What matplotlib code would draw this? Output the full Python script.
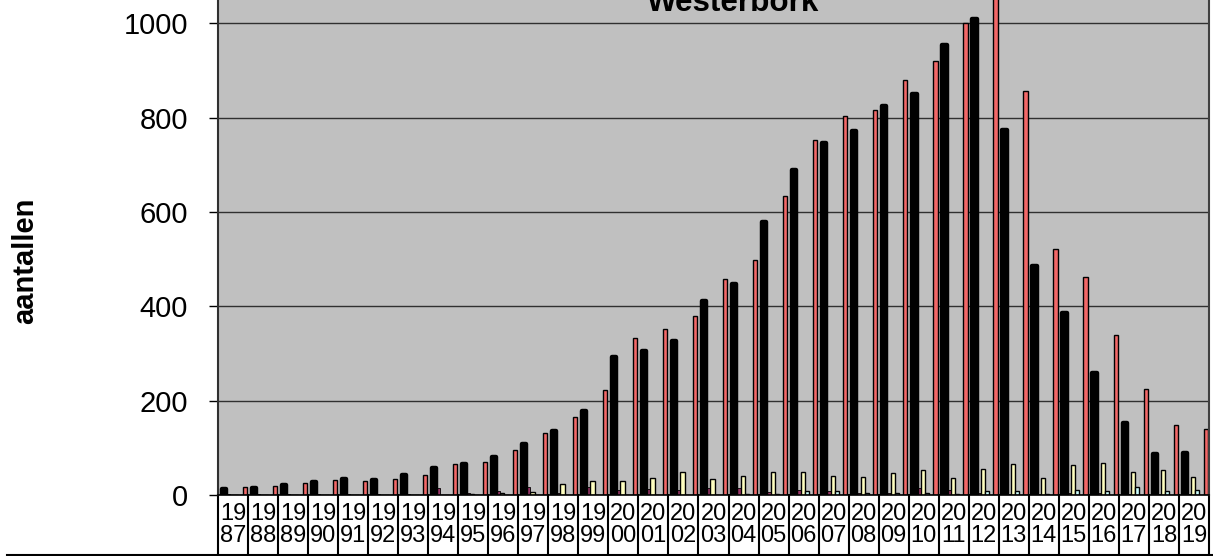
import matplotlib
matplotlib.use("Agg")
import matplotlib.pyplot as plt
from matplotlib.lines import Line2D
import numpy as np

plt.rcParams['font.family'] = ['Liberation Sans', 'DejaVu Sans']

# categories (years) and the five series per year
jaren = ['1987', '1988', '1989', '1990', '1991', '1992', '1993', '1994', '1995',
         '1996', '1997', '1998', '1999', '2000', '2001', '2002', '2003', '2004',
         '2005', '2006', '2007', '2008', '2009', '2010', '2011', '2012', '2013',
         '2014', '2015', '2016', '2017', '2018', '2019']

zwart = [12, 15, 21, 28, 33, 31, 43, 57, 65, 80, 108, 136, 178, 292, 306, 326,
         411, 447, 579, 688, 746, 771, 824, 850, 954, 1009, 773, 485, 385, 259,
         153, 86, 90]
paars = [3, 3, 3, 3, 2, 3, 2, 15, 4, 8, 17, 5, 17, 10, 12, 10, 15, 15, 7, 10,
         8, 5, 5, 15, 10, 5, 3, 3, 5, 5, 3, 2, 2]
geel = [0, 0, 0, 0, 0, 0, 0, 0, 2, 5, 6, 23, 29, 30, 35, 49, 33, 40, 49, 49,
        40, 39, 46, 52, 35, 55, 65, 37, 63, 67, 48, 52, 39]
cyaan = [0, 0, 0, 0, 0, 0, 0, 0, 0, 0, 0, 0, 0, 0, 0, 0, 0, 2, 2, 9, 9, 4, 4,
         5, 2, 9, 8, 3, 10, 8, 16, 9, 10]
rood = [16, 19, 25, 32, 30, 33, 42, 66, 69, 95, 131, 165, 222, 332, 352, 380,
        458, 498, 633, 753, 803, 817, 880, 921, 1000, 1100, 856, 521, 463, 340,
        224, 148, 140]

W, H = 1213, 556
fig = plt.figure(figsize=(W / 100, H / 100), dpi=100)
ax = fig.add_axes([218 / W, (H - 495) / H, 991 / W, (495 + 71) / H])
ax.set_facecolor('#C0C0C0')

x = np.arange(len(jaren))
step = 0.14

def offset(k):
    return (k - 2.5) * step + 0.04

# slot 4 is empty in the original cluster
ax.bar(x + offset(1), paars, step, color='#993366', edgecolor='black', lw=0.6, zorder=2)
ax.bar(x + offset(0), zwart, step, color='black', edgecolor='black', lw=3.2,
       joinstyle='round', zorder=3)
ax.bar(x + offset(2), geel, step, color='#FFFFC0', edgecolor='black', lw=1, zorder=2)
ax.bar(x + offset(3), cyaan, step, color='#CCFFFF', edgecolor='black', lw=1, zorder=2)
ax.bar(x + offset(5), rood, step, color='#F26868', edgecolor='black', lw=1, zorder=2)

ax.set_xlim(-0.5, len(jaren) - 0.5)
ax.set_ylim(0, 1200)
ax.set_yticks([0, 200, 400, 600, 800, 1000])
ax.yaxis.grid(True, color='#303030', lw=1)
ax.set_axisbelow(True)
ax.tick_params(axis='y', labelsize=21, length=6.5, width=1, pad=15, direction='out')

ax.set_xticks(x)
ax.set_xticklabels([j[:2] + '\n' + j[2:] for j in jaren], fontsize=17, linespacing=1.0)
ax.tick_params(axis='x', length=0, pad=6)

ax.spines['top'].set_visible(False)
ax.spines['left'].set_color('#303030')
ax.spines['left'].set_linewidth(1.5)
ax.spines['right'].set_color('#404040')
ax.spines['right'].set_linewidth(1.5)
ax.spines['bottom'].set_color('black')
ax.spines['bottom'].set_linewidth(1.2)

# cell borders of the category labels
tabel = -60 / 566
for b in np.arange(-0.5, len(jaren), 1.0):
    ax.plot([b, b], [0, tabel], transform=ax.get_xaxis_transform(),
            color='black', lw=1.5, clip_on=False)
fig.add_artist(Line2D([7 / W, 1], [1 - 554.5 / H] * 2, color='black', lw=1.5))

fig.text(733 / W, 1 - 11 / H, 'Westerbork', ha='center', va='baseline',
         fontsize=22.6, fontweight='bold')
fig.text(25 / W, 1 - 261 / H, 'aantallen', rotation=90, ha='center', va='center',
         fontsize=21, fontweight='bold')

fig.savefig('out.png', dpi=100)
